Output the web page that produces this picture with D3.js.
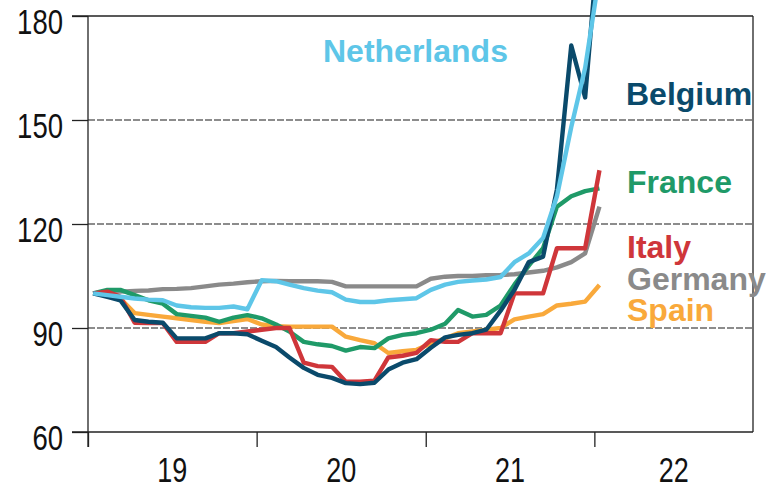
<!DOCTYPE html>
<html lang="en">
<head>
<meta charset="UTF-8">
<title>Electricity prices index</title>
<script src="https://d3js.org/d3.v7.min.js"></script>
<style>
  body { margin: 0; background: white; }
  svg { display: block; }
  .tick text { font-family: "Liberation Sans", Arial, sans-serif; }
  .lbl { font-family: "Liberation Sans", Arial, sans-serif; font-weight: bold; font-size: 32px; }
</style>
</head>
<body>
<svg></svg>
<script>
// monthly observations, Jan 2019 .. Jan 2022 (index, Jan 2019 = 100)
const months = d3.timeMonth.range(new Date(2019, 0, 1), new Date(2022, 1, 1));

const germany = [100, 100.3, 100.5, 100.7, 100.8, 101.2, 101.3, 101.5, 102, 102.5, 102.8, 103.2,
                 103.5, 103.6, 103.5, 103.5, 103.5, 103.3, 102, 102, 102, 102, 102, 102,
                 104.2, 104.8, 105, 105, 105.2, 105.3, 105.5, 106, 106.5, 107.5, 109, 111.5, 125];
const spain = [100, 99.5, 98.5, 94.3, 93.8, 93.3, 92.8, 92.3, 91.8, 91.4, 92, 92.6,
               91, 90.5, 90.4, 90.4, 90.4, 90.4, 87.5, 86.5, 85.6, 82.8, 83.3, 83.7,
               85.5, 87, 88.5, 89, 89.5, 90, 92.5, 93.3, 94, 96.5, 97, 97.6, 102.4];
const france = [100, 101, 101, 99.5, 98, 97, 94, 93.5, 93, 91.8, 93, 93.7,
                92.8, 91, 89, 86, 85.3, 84.8, 83.5, 84.5, 84.2, 87, 88, 88.5,
                89.5, 91.2, 95.2, 93.3, 93.8, 96.5, 102.5, 108, 113, 125, 128, 129.5, 130.3];
const italy = [100, 100.5, 99, 91.5, 91.4, 91.4, 86, 86, 86, 88.5, 88.5, 89,
               89.5, 90, 90, 80, 79, 78.8, 74.5, 74.5, 74.8, 81.5, 82, 82.8,
               86.5, 86, 86, 88.5, 88.5, 88.5, 100, 100, 100, 113, 113, 113, 135.5];
const belgium = [100, 99, 98, 92.3, 91.8, 91.5, 87, 87, 87, 88.5, 88.5, 88.2,
                 86.3, 84.5, 81.5, 78.5, 76.5, 75.6, 74.1, 73.8, 74.2, 78, 80, 81,
                 84.3, 87.3, 88, 88.5, 89.5, 95, 101, 109, 110.6, 130, 171.5, 156.5, 205];
const netherlands = [100, 99.5, 99, 98.5, 98.2, 98, 96.5, 96, 95.8, 95.8, 96.2, 95.4,
                     103.8, 103.5, 102.5, 101.5, 100.8, 100.3, 98.2, 97.5, 97.5, 98, 98.3, 98.6,
                     101, 102.5, 103.3, 103.7, 104, 104.7, 109, 111.5, 116, 128, 148, 165, 192];

const seriesNames = ["Germany", "Spain", "France", "Italy", "Belgium", "Netherlands"];
const seriesValues = [germany, spain, france, italy, belgium, netherlands];
const seriesColors = ["#8a8a8a", "#f9a93b", "#1f9a68", "#cf363a", "#0a4a6b", "#5ec6e8"];

const yTicks = [60, 90, 120, 150, 180];
const yearLabels = ["19", "20", "21", "22"];

const w = 766, h = 488;
const pLeft = 88, pRight = 753, pTop = 16, pBottom = 432;

const svg = d3.select("svg").attr("width", w).attr("height", h);

const x = d3.scaleTime()
    .domain([new Date(2019, 0, 1), new Date(2023, 0, 1)])
    .range([pLeft, 763]);
const y = d3.scaleLinear().domain([60, 180]).range([pBottom, pTop]);

// dashed gridlines
svg.append("g")
   .selectAll("line")
   .data(yTicks.filter(d => d > 60 && d < 180))
   .enter()
   .append("line")
   .attr("x1", pLeft).attr("x2", pRight)
   .attr("y1", d => y(d)).attr("y2", d => y(d))
   .attr("stroke", "#1a1a1a")
   .attr("stroke-width", 1.2)
   .attr("stroke-dasharray", "7,2");

// y axis
const yAxis = d3.axisLeft(y).tickValues(yTicks).tickSize(16).tickPadding(9);
const gy = svg.append("g")
   .attr("transform", "translate(" + pLeft + ",0)")
   .call(yAxis);
gy.select(".domain").remove();
gy.selectAll(".tick line").attr("stroke", "#222").attr("stroke-width", 1.3);
gy.selectAll(".tick text")
  .attr("font-size", 35)
  .attr("fill", "#111")
  .attr("dy", "0.5em")
  .attr("textLength", d => String(d).length * 15.3)
  .attr("lengthAdjust", "spacingAndGlyphs");

// x axis (year boundaries)
const yearStarts = [2019, 2020, 2021, 2022].map(yr => new Date(yr, 0, 1));
const xAxis = d3.axisBottom(x).tickValues(yearStarts).tickSize(15).tickFormat("");
const gx = svg.append("g")
   .attr("transform", "translate(0," + pBottom + ")")
   .call(xAxis);
gx.select(".domain").remove();
gx.selectAll(".tick line").attr("stroke", "#222").attr("stroke-width", 1.3);

// year labels centred in each year
svg.append("g")
   .selectAll("text")
   .data(yearLabels)
   .enter()
   .append("text")
   .attr("x", (d, i) => {
       const a = x(yearStarts[i]);
       const b = Math.min(i < 3 ? x(yearStarts[i + 1]) : pRight, pRight);
       return (a + b) / 2;
   })
   .attr("y", 482)
   .attr("text-anchor", "middle")
   .attr("font-family", "'Liberation Sans', Arial, sans-serif")
   .attr("font-size", 35)
   .attr("fill", "#111")
   .attr("textLength", 30)
   .attr("lengthAdjust", "spacingAndGlyphs")
   .text(d => d);

// frame
const frame = svg.append("g").attr("stroke", "#222").attr("stroke-width", 1.3).attr("fill", "none");
frame.append("line").attr("x1", 72).attr("x2", pRight).attr("y1", pTop).attr("y2", pTop);
frame.append("line").attr("x1", 72).attr("x2", pRight).attr("y1", pBottom).attr("y2", pBottom);
frame.append("line").attr("x1", pRight).attr("x2", pRight).attr("y1", pTop).attr("y2", pBottom);
frame.append("line").attr("x1", pLeft).attr("x2", pLeft).attr("y1", pTop).attr("y2", pBottom + 15);

// lines
const line = d3.line()
    .x((d, i) => x(d3.timeDay.offset(months[i], 11)))
    .y(d => y(d));

svg.append("g")
   .selectAll("path")
   .data(seriesValues)
   .enter()
   .append("path")
   .attr("d", d => line(d))
   .attr("fill", "none")
   .attr("stroke", (d, i) => seriesColors[i])
   .attr("stroke-width", 4.4)
   .attr("stroke-linejoin", "round");

// series labels
const labelPos = {
    Netherlands: [323, 62],
    Belgium: [626, 105],
    France: [627, 193],
    Italy: [627, 258],
    Germany: [627, 290],
    Spain: [627, 321]
};
svg.append("g")
   .selectAll("text")
   .data(seriesNames)
   .enter()
   .append("text")
   .attr("class", "lbl")
   .attr("x", d => labelPos[d][0])
   .attr("y", d => labelPos[d][1])
   .attr("fill", (d, i) => seriesColors[i])
   .text(d => d);
</script>
</body>
</html>
